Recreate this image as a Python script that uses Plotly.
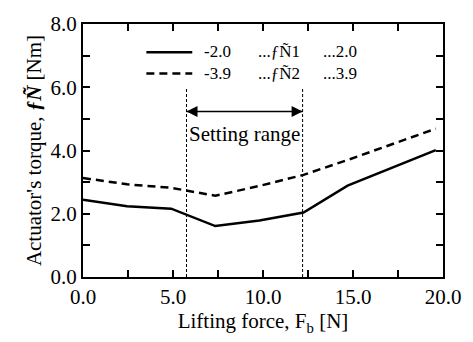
import plotly.graph_objects as go

# Data
force = [0.0, 2.45, 4.9, 7.35, 9.8, 12.25, 14.7, 19.6]
torque_a = [2.44, 2.24, 2.16, 1.61, 1.79, 2.04, 2.89, 4.01]
torque_b = [3.13, 2.93, 2.82, 2.57, 2.88, 3.23, 3.70, 4.69]
legend_col1 = ["-2.0", "-3.9"]
legend_col2 = ["...ƒÑ1", "...ƒÑ2"]
legend_col3 = ["...2.0", "...3.9"]
range_lo, range_hi = 5.75, 12.2
range_top = 6.0
arrow_y = 5.23
label_y = 4.53

FONT = "Liberation Serif"

fig = go.Figure()
fig.add_trace(go.Scatter(x=force, y=torque_a, mode="lines", showlegend=False,
                         line=dict(color="black", width=2.5)))
fig.add_trace(go.Scatter(x=force, y=torque_b, mode="lines", showlegend=False,
                         line=dict(color="black", width=2.5, dash="8px,5px")))

for xv in (range_lo, range_hi):
    fig.add_trace(go.Scatter(x=[xv, xv], y=[0, range_top], mode="lines", showlegend=False,
                             line=dict(color="black", width=1, dash="3px,2px")))

# Double-headed arrow for the setting range
fig.add_trace(go.Scatter(x=[range_lo, range_hi], y=[arrow_y, arrow_y], mode="lines+markers",
                         showlegend=False, line=dict(color="black", width=1.5),
                         marker=dict(symbol=["arrow-left", "arrow-right"], size=11,
                                     color="black", standoff=0)))
fig.add_annotation(x=(range_lo + range_hi) / 2, y=label_y, xref="x", yref="y",
                   text="Setting range", showarrow=False,
                   font=dict(size=21, color="black", family=FONT))

# Manual legend (paper coordinates)
row_y = [0.888, 0.804]
for ly, dash in zip(row_y, ["solid", "8px,5px"]):
    fig.add_shape(type="line", xref="paper", yref="paper", x0=0.176, x1=0.3035, y0=ly, y1=ly,
                  line=dict(color="black", width=2.5, dash=dash))
mid_y = sum(row_y) / 2
for cx, col in zip([0.331, 0.480, 0.661], [legend_col1, legend_col2, legend_col3]):
    fig.add_annotation(x=cx, y=mid_y, xref="paper", yref="paper", text="<br>".join(col),
                       showarrow=False, xanchor="left", yanchor="middle", align="left",
                       font=dict(size=17, color="black", family=FONT))

axis_common = dict(showline=True, linecolor="black", linewidth=2, mirror="allticks",
                   ticks="inside", ticklen=7, tickwidth=1.5, tickcolor="black",
                   showgrid=False, zeroline=False, tickformat=".1f",
                   tickfont=dict(size=21, color="black", family=FONT))

fig.update_xaxes(range=[0, 20], dtick=5, tick0=0,
                 minor=dict(dtick=2.5, ticks="inside", ticklen=7, tickwidth=1.5,
                            tickcolor="black", showgrid=False),
                 title=dict(text="Lifting force, F<sub>b</sub> [N]", standoff=4,
                            font=dict(size=21, color="black", family=FONT)),
                 **axis_common)
fig.update_yaxes(range=[0, 8], dtick=2, tick0=0,
                 minor=dict(dtick=1, ticks="inside", ticklen=7, tickwidth=1.5,
                            tickcolor="black", showgrid=False),
                 title=dict(text="Actuator's torque, <b><i>ƒÑ</i></b> [Nm]", standoff=3,
                            font=dict(size=21, color="black", family=FONT)),
                 **axis_common)

fig.update_layout(
    width=473, height=342,
    margin=dict(l=83, r=21, t=14, b=65),
    plot_bgcolor="white", paper_bgcolor="white",
    font=dict(family=FONT, size=21, color="black"),
    showlegend=False,
)

fig.write_html("out.html")
